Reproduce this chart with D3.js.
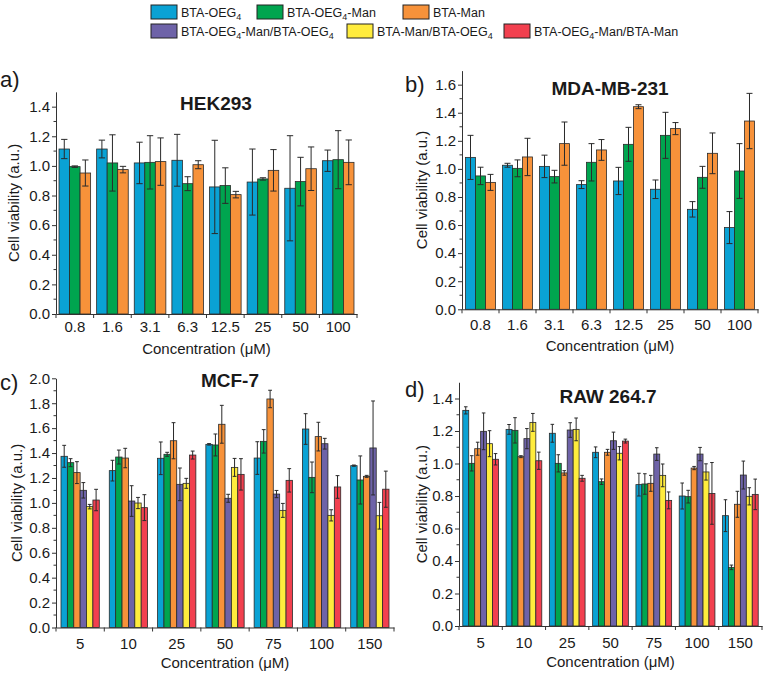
<!DOCTYPE html>
<html><head><meta charset="utf-8">
<script src="https://cdn.jsdelivr.net/npm/d3@7"></script>
<style>
body{margin:0;background:#fff}
svg{display:block}
text{font-family:"Liberation Sans",Arial,sans-serif;fill:#1a1a1a}
</style>
</head><body>
<svg id="chart" width="763" height="673"></svg>
<script>
// ---------- data ----------
const seriesNames = ["BTA-OEG4","BTA-OEG4-Man","BTA-Man","BTA-OEG4-Man/BTA-OEG4","BTA-Man/BTA-OEG4","BTA-OEG4-Man/BTA-Man"];
const seriesColors = ["#0aa2d4","#00a54f","#f7923a","#6e63a8","#ffec3d","#f2404f"];

const hekConc = ["0.8","1.6","3.1","6.3","12.5","25","50","100"];
const hekOEG4     = [1.114,1.114,1.020,1.038,0.858,0.891,0.849,1.035];
const hekOEG4Err  = [0.065,0.060,0.140,0.175,0.315,0.223,0.355,0.072];
const hekOEG4Man    = [0.995,1.020,1.024,0.880,0.867,0.912,0.894,1.042];
const hekOEG4ManErr = [0.005,0.190,0.180,0.047,0.120,0.008,0.164,0.196];
const hekMan    = [0.952,0.975,1.029,1.008,0.806,0.970,0.981,1.024];
const hekManErr = [0.088,0.022,0.160,0.027,0.022,0.140,0.147,0.151];

const mdaConc = ["0.8","1.6","3.1","6.3","12.5","25","50","100"];
const mdaOEG4     = [1.082,1.026,1.018,0.888,0.914,0.855,0.712,0.582];
const mdaOEG4Err  = [0.157,0.014,0.080,0.028,0.097,0.066,0.055,0.114];
const mdaOEG4Man    = [0.950,1.004,0.945,1.047,1.175,1.239,0.940,0.985];
const mdaOEG4ManErr = [0.062,0.060,0.045,0.133,0.121,0.164,0.078,0.195];
const mdaMan    = [0.904,1.085,1.180,1.135,1.443,1.287,1.111,1.341];
const mdaManErr = [0.057,0.133,0.154,0.074,0.014,0.043,0.145,0.197];

const mcfConc = ["5","10","25","50","75","100","150"];
const mcfOEG4     = [1.374,1.259,1.358,1.470,1.360,1.593,1.299];
const mcfOEG4Err  = [0.088,0.083,0.131,0.006,0.131,0.123,0.005];
const mcfOEG4Man    = [1.323,1.368,1.390,1.465,1.494,1.205,1.184];
const mcfOEG4ManErr = [0.032,0.056,0.016,0.088,0.094,0.123,0.193];
const mcfMan    = [1.243,1.360,1.499,1.631,1.834,1.532,1.213];
const mcfManErr = [0.088,0.078,0.145,0.152,0.070,0.115,0.008];
const mcfMixA    = [1.101,1.015,1.149,1.037,1.071,1.475,1.441];
const mcfMixAErr = [0.062,0.123,0.131,0.032,0.029,0.043,0.377];
const mcfMixB    = [0.970,0.999,1.157,1.285,0.940,0.900,0.897];
const mcfMixBErr = [0.018,0.045,0.040,0.072,0.056,0.045,0.107];
const mcfMixC    = [1.023,0.962,1.384,1.229,1.181,1.128,1.110];
const mcfMixCErr = [0.086,0.104,0.032,0.126,0.094,0.091,0.145];

const rawConc = ["5","10","25","50","75","100","150"];
const rawOEG4     = [1.327,1.210,1.186,1.069,0.870,0.800,0.679];
const rawOEG4Err  = [0.022,0.030,0.055,0.033,0.070,0.080,0.098];
const rawOEG4Man    = [1.001,1.204,1.001,0.888,0.874,0.796,0.361];
const rawOEG4ManErr = [0.047,0.078,0.053,0.017,0.063,0.039,0.014];
const rawMan    = [1.091,1.042,0.942,1.069,0.878,0.972,0.749];
const rawManErr = [0.040,0.006,0.014,0.018,0.049,0.010,0.080];
const rawMixA    = [1.198,1.153,1.206,1.140,1.058,1.058,0.929];
const rawMixAErr = [0.113,0.062,0.045,0.053,0.039,0.041,0.086];
const rawMixB    = [1.122,1.253,1.210,1.063,0.927,0.948,0.798];
const rawMixBErr = [0.080,0.055,0.070,0.041,0.070,0.050,0.053];
const rawMixC    = [1.026,1.017,0.909,1.138,0.773,0.816,0.810];
const rawMixCErr = [0.035,0.053,0.018,0.012,0.052,0.190,0.094];

// ---------- drawing ----------
const svg = d3.select("#chart");
const AX = "#333";

function addName(textSel, name, subSize) {
  const parts = name.split(/(?<=OEG)4/);
  parts.forEach((p, i) => {
    textSel.append("tspan").text(p).attr("dy", i === 0 ? 0 : -3);
    if (i < parts.length - 1) {
      textSel.append("tspan").text("4").attr("font-size", subSize).attr("dy", 3);
    }
  });
}

// legend
const legendPos = [[151,5],[257,5],[403,5],[151,24],[347,24],[504,24]];
seriesNames.forEach((n, i) => {
  const [lx, ly] = legendPos[i];
  svg.append("rect").attr("x", lx).attr("y", ly).attr("width", 26).attr("height", 14)
    .attr("fill", seriesColors[i]).attr("stroke", "#222").attr("stroke-width", 1);
  const t = svg.append("text").attr("x", lx + 30).attr("y", ly + 11.5).attr("font-size", 12.5);
  addName(t, n, 9);
});

function panel(cfg) {
  const g = svg.append("g");
  const x = d3.scaleBand().domain(cfg.cats).range([cfg.x0, cfg.x1])
    .paddingInner(cfg.pad).paddingOuter(cfg.pad / 2);
  const y = d3.scaleLinear().domain([0, cfg.yMax]).range([cfg.y0, cfg.y0 - cfg.yMax * cfg.ppu]);
  const xs = d3.scaleBand().domain(d3.range(cfg.series.length)).range([0, x.bandwidth()]);
  const bw = xs.bandwidth();

  cfg.series.forEach((s, j) => {
    const gs = g.append("g");
    gs.selectAll("rect").data(cfg.cats).join("rect")
      .attr("x", (c) => x(c) + xs(j))
      .attr("y", (c, i) => y(s.vals[i]))
      .attr("width", bw)
      .attr("height", (c, i) => y(0) - y(s.vals[i]))
      .attr("fill", seriesColors[s.k])
      .attr("stroke", "#2a2a2a").attr("stroke-width", 0.8);
  });
  cfg.series.forEach((s, j) => {
    const ge = g.append("g").attr("stroke", "#2a2a2a").attr("stroke-width", 1);
    const cap = bw * 0.6;
    cfg.cats.forEach((c, i) => {
      const cx = x(c) + xs(j) + bw / 2;
      const lo = y(s.vals[i] - s.errs[i]), hi = y(s.vals[i] + s.errs[i]);
      ge.append("line").attr("x1", cx).attr("x2", cx).attr("y1", lo).attr("y2", hi);
      ge.append("line").attr("x1", cx - cap / 2).attr("x2", cx + cap / 2).attr("y1", hi).attr("y2", hi);
      ge.append("line").attr("x1", cx - cap / 2).attr("x2", cx + cap / 2).attr("y1", lo).attr("y2", lo);
    });
  });

  // y axis
  const ya = g.append("g").attr("transform", `translate(${cfg.x0},0)`)
    .call(d3.axisLeft(y).tickValues(d3.range(0, cfg.tickMax + 1e-9, 0.2))
      .tickFormat(d3.format(".1f")).tickSize(4).tickSizeOuter(0).tickPadding(2));
  ya.selectAll("path,line").attr("stroke", AX);
  ya.selectAll("text").attr("font-size", 15).attr("font-family", '"Liberation Sans",Arial,sans-serif').attr("fill", "#1a1a1a");
  g.append("g").selectAll("line").data(d3.range(0.1, cfg.yMax, 0.2)).join("line")
    .attr("x1", cfg.x0 - 2.5).attr("x2", cfg.x0).attr("y1", (v) => y(v)).attr("y2", (v) => y(v))
    .attr("stroke", AX);

  // x axis
  const xa = g.append("g").attr("transform", `translate(0,${cfg.y0})`)
    .call(d3.axisBottom(x).tickSize(0).tickSizeOuter(0).tickPadding(cfg.xpad));
  xa.select("path").attr("stroke", AX);
  xa.selectAll("text").attr("font-size", 15).attr("font-family", '"Liberation Sans",Arial,sans-serif').attr("fill", "#1a1a1a");
  const bounds = cfg.cats.map((c) => x(c) - x.step() * cfg.pad / 2).concat([cfg.x1]);
  g.append("g").selectAll("line").data(bounds).join("line")
    .attr("x1", (d) => d).attr("x2", (d) => d).attr("y1", cfg.y0).attr("y2", cfg.y0 + 4)
    .attr("stroke", AX);

  // texts
  g.append("text").attr("x", (cfg.x0 + cfg.x1) / 2).attr("y", cfg.y0 + cfg.xtitleOff)
    .attr("text-anchor", "middle").attr("font-size", 15).text("Concentration (\u03bcM)");
  g.append("text").attr("transform", `translate(${cfg.ytx},${(y(0) + y(cfg.yMax)) / 2}) rotate(-90)`)
    .attr("text-anchor", "middle").attr("font-size", 15).text("Cell viability (a.u.)");
  g.append("text").attr("x", cfg.titleX).attr("y", cfg.titleY).attr("text-anchor", "middle")
    .attr("font-size", 19).attr("font-weight", "bold").text(cfg.title);
  g.append("text").attr("x", cfg.labelX).attr("y", cfg.labelY).attr("font-size", 22).text(cfg.label);
}

panel({
  cats: hekConc, x0: 56, x1: 357, pad: 0.16, y0: 314, ppu: 148.1, yMax: 1.5, tickMax: 1.4,
  xpad: 7, xtitleOff: 40, ytx: 19, title: "HEK293", titleX: 216, titleY: 110, label: "a)", labelX: 0, labelY: 87,
  series: [{k:0, vals: hekOEG4, errs: hekOEG4Err}, {k:1, vals: hekOEG4Man, errs: hekOEG4ManErr}, {k:2, vals: hekMan, errs: hekManErr}]
});
panel({
  cats: mdaConc, x0: 462, x1: 758, pad: 0.19, y0: 309.3, ppu: 140.4, yMax: 1.7, tickMax: 1.6,
  xpad: 10, xtitleOff: 42, ytx: 427, title: "MDA-MB-231", titleX: 610, titleY: 95, label: "b)", labelX: 405, labelY: 92,
  series: [{k:0, vals: mdaOEG4, errs: mdaOEG4Err}, {k:1, vals: mdaOEG4Man, errs: mdaOEG4ManErr}, {k:2, vals: mdaMan, errs: mdaManErr}]
});
panel({
  cats: mcfConc, x0: 56, x1: 394, pad: 0.207, y0: 627.5, ppu: 124.6, yMax: 2.0, tickMax: 2.0,
  xpad: 11, xtitleOff: 40.5, ytx: 22, title: "MCF-7", titleX: 230, titleY: 387, label: "c)", labelX: 0, labelY: 390,
  series: [{k:0, vals: mcfOEG4, errs: mcfOEG4Err}, {k:1, vals: mcfOEG4Man, errs: mcfOEG4ManErr}, {k:2, vals: mcfMan, errs: mcfManErr},
           {k:3, vals: mcfMixA, errs: mcfMixAErr}, {k:4, vals: mcfMixB, errs: mcfMixBErr}, {k:5, vals: mcfMixC, errs: mcfMixCErr}]
});
panel({
  cats: rawConc, x0: 459, x1: 762, pad: 0.175, y0: 626, ppu: 162.5, yMax: 1.5, tickMax: 1.4,
  xpad: 11, xtitleOff: 41, ytx: 427, title: "RAW 264.7", titleX: 608, titleY: 403, label: "d)", labelX: 405, labelY: 397,
  series: [{k:0, vals: rawOEG4, errs: rawOEG4Err}, {k:1, vals: rawOEG4Man, errs: rawOEG4ManErr}, {k:2, vals: rawMan, errs: rawManErr},
           {k:3, vals: rawMixA, errs: rawMixAErr}, {k:4, vals: rawMixB, errs: rawMixBErr}, {k:5, vals: rawMixC, errs: rawMixCErr}]
});
</script>
</body></html>
